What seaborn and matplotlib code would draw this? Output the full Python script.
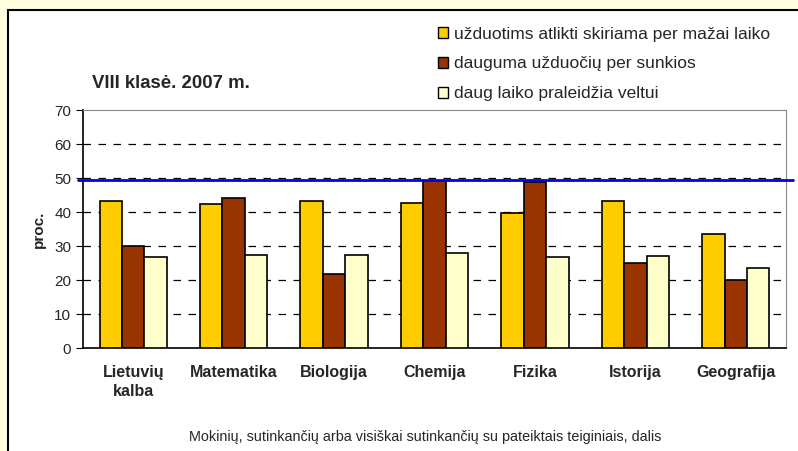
import pandas as pd
import matplotlib.pyplot as plt
import seaborn as sns
from matplotlib.patches import Rectangle, Patch

subjects = ['Lietuvių\nkalba', 'Matematika', 'Biologija', 'Chemija', 'Fizika', 'Istorija', 'Geografija']
series_names = ['užduotims atlikti skiriama per mažai laiko',
                'dauguma užduočių per sunkios',
                'daug laiko praleidžia veltui']
per_mazai_laiko = [43.2, 42.4, 43.2, 42.7, 39.7, 43.2, 33.6]
per_sunkios = [30.1, 44.1, 21.8, 49.1, 48.8, 24.9, 20.0]
veltui = [26.7, 27.5, 27.5, 28.0, 26.7, 27.1, 23.5]
average_line = 49.4
colors = ['#FFCC00', '#993300', '#FFFFCC']

df = pd.DataFrame({
    'dalykas': subjects * 3,
    'serija': [series_names[0]] * 7 + [series_names[1]] * 7 + [series_names[2]] * 7,
    'proc': per_mazai_laiko + per_sunkios + veltui,
})

sns.set_style('white')
plt.rcParams['font.family'] = ['Liberation Sans', 'DejaVu Sans']

fig = plt.figure(figsize=(7.98, 4.51), dpi=100)
fig.patch.set_facecolor('#FFFFE0')
# white chart area with black frame (runs off the right and bottom edges)
fig.patches.append(Rectangle((8 / 798, -0.1), 1, 1.1 - 10 / 451, transform=fig.transFigure,
                             facecolor='white', edgecolor='black', linewidth=1.5, zorder=-5))

ax = fig.add_axes([83 / 798, 1 - 348 / 451, 703 / 798, 238 / 451])
ax.set_facecolor('white')
sns.barplot(data=df, x='dalykas', y='proc', hue='serija', palette=colors, saturation=1,
            width=0.67, edgecolor='black', linewidth=1.2, ax=ax, legend=False, zorder=3)

ax.set_ylim(0, 70)
ax.set_xlim(-0.5, 6.5)
ax.set_yticks(range(0, 71, 10))
for y in range(10, 70, 10):
    ax.axhline(y, color='black', linestyle=(0, (6, 6)), linewidth=0.9, zorder=1)
ax.axhline(average_line, xmin=-0.007, xmax=1.01, color='#0000EE', linewidth=2, zorder=4, clip_on=False)

for side in ['top', 'right']:
    ax.spines[side].set_color('#888888')
for side in ['left', 'bottom']:
    ax.spines[side].set_color('black')
    ax.spines[side].set_linewidth(1.2)

ax.set_xticks(range(7))
ax.set_xticklabels(subjects, fontweight='bold', fontsize=11.5, linespacing=1.4)
ax.set_xticks([i - 0.5 for i in range(8)], minor=True)
ax.tick_params(axis='x', which='major', length=0, pad=12)
ax.tick_params(axis='x', which='minor', length=5, direction='out', color='black')
ax.tick_params(axis='y', length=5, direction='out', left=True, labelsize=11, color='black')
for lbl in ax.get_xticklabels():
    lbl.set_verticalalignment('top')

ax.set_xlabel('')
ax.set_ylabel('proc.', fontweight='bold', fontsize=11, labelpad=6)

fig.text(92 / 798, 1 - 83 / 451, 'VIII klasė. 2007 m.', fontweight='bold', fontsize=13.4, va='center')
fig.text(425 / 798, 1 - 437 / 451,
         'Mokinių, sutinkančių arba visiškai sutinkančių su pateiktais teiginiais, dalis',
         fontsize=10.4, ha='center', va='center')

handles = [Patch(facecolor=c, edgecolor='black', linewidth=1) for c in colors]
fig.legend(handles, series_names, loc='upper left', bbox_to_anchor=(429 / 798, 1 - 18 / 451),
           frameon=False, fontsize=12.5, handlelength=0.6, handleheight=0.6, handletextpad=0.35,
           labelspacing=0.85, borderpad=0)

fig.savefig('out.png', dpi=100, facecolor=fig.get_facecolor())
